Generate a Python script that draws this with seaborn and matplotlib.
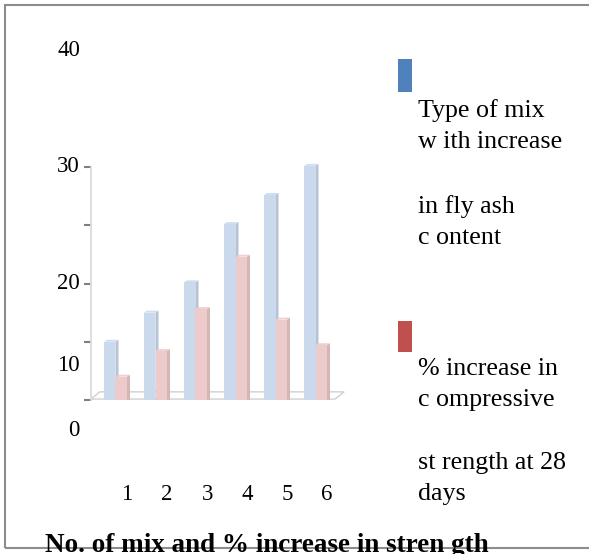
import numpy as np
import pandas as pd
import matplotlib
matplotlib.use("Agg")
import matplotlib.pyplot as plt
from matplotlib.colors import to_rgb
from matplotlib.patches import Polygon, Rectangle
import seaborn as sns

# ---------------- data ----------------
mix_numbers = ["1", "2", "3", "4", "5", "6"]
fly_ash_mix = [15.0, 17.5, 20.1, 25.1, 27.6, 30.1]
strength_increase = [12.0, 14.2, 17.8, 22.3, 16.9, 14.7]
series_names = [
    "Type of mix\nw ith increase\n\nin fly ash\nc ontent",
    "% increase in\nc ompressive\n\nst rength at 28\ndays",
]
y_tick_values = [10, 15, 20, 25, 30]
y_label_texts = ["40", "30", "20", "10", "0"]
y_label_positions = [40, 30, 20, 13, 7.4]  # where the labels sit in the source
title_text = "No. of mix and % increase in stren gth"

df = pd.DataFrame({
    "mix": mix_numbers * 2,
    "value": fly_ash_mix + strength_increase,
    "series": [series_names[0]] * len(mix_numbers) + [series_names[1]] * len(mix_numbers),
})

# ---------------- style ----------------
sns.set_theme(style="white")
plt.rcParams["font.family"] = ["Liberation Serif", "DejaVu Serif"]

W, H = 589, 554
fig = plt.figure(figsize=(W / 100, H / 100), dpi=100)
fig.patch.set_facecolor("white")
ax = fig.add_axes([91 / W, 154 / H, 254 / W, 349.5 / H])
ax.set_facecolor("none")

base_colors = ["#4f81bd", "#c0504d"]
pale = [tuple(0.3 * np.array(to_rgb(c)) + 0.7) for c in base_colors]

sns.barplot(data=df, x="mix", y="value", hue="series", hue_order=series_names,
            palette=pale, saturation=1, width=0.575, legend=False, ax=ax,
            linewidth=0, errorbar=None)

ax.set_xlim(-0.6125, 5.7375)
ax.set_ylim(10, 40)

# pseudo-3D faces
dx, dy = 0.075, 0.17
for p in list(ax.patches):
    x, w, h = p.get_x(), p.get_width(), p.get_height()
    fc = np.array(p.get_facecolor()[:3])
    j = int(np.argmin([np.sum((fc - np.array(c)) ** 2) for c in pale]))
    z = 3 + 2 * j
    p.set_zorder(z + 1)
    side_c = tuple(fc * 0.9)
    top_c = tuple(np.minimum(fc * 1.02, 1))
    ax.add_patch(Polygon([(x + w, 0), (x + w + dx, dy), (x + w + dx, h + dy), (x + w, h)],
                         closed=True, facecolor=side_c, edgecolor="none", zorder=z))
    ax.add_patch(Polygon([(x, h), (x + dx, h + dy), (x + w + dx, h + dy), (x + w, h)],
                         closed=True, facecolor=top_c, edgecolor="none", zorder=z))

# floor
x0, x1 = ax.get_xlim()
y0 = ax.get_ylim()[0]
ax.add_patch(Polygon([(x0, y0 + 0.08), (x0 + 0.22, y0 + 0.7), (x1 - 0.02, y0 + 0.7), (x1 - 0.25, y0 + 0.08)],
                     closed=True, facecolor="white", edgecolor="#d0d0d0", lw=1.0, zorder=1,
                     clip_on=False))

# axes
for s in ["top", "right", "bottom"]:
    ax.spines[s].set_visible(False)
ax.spines["left"].set_color("#d9d9d9")
ax.spines["left"].set_bounds(10, 30)
ax.set_yticks(y_tick_values)
ax.tick_params(axis="y", left=True, length=5, width=1.5, color="#7f7f7f", labelleft=False)
ax.set_xticks([])
ax.set_xlabel("")
ax.set_ylabel("")

num_fs = 16.5
for txt, pos in zip(y_label_texts, y_label_positions):
    ax.text(-11 / 254, pos, txt, transform=ax.get_yaxis_transform(), ha="right", va="center",
            fontsize=num_fs, color="black", clip_on=False)
for i, lab in enumerate(mix_numbers):
    ax.text(i + 0.29, -95 / 349.5, lab, transform=ax.get_xaxis_transform(), ha="center",
            va="center", fontsize=num_fs, color="black", clip_on=False)

# legend (manual)
leg_tops = [59, 321]
leg_heights = [33, 31]
leg_text_tops = [99, 358]
for c, top, hgt, ttop, name in zip(base_colors, leg_tops, leg_heights, leg_text_tops, series_names):
    fig.add_artist(Rectangle((398 / W, 1 - (top + hgt) / H), 14 / W, hgt / H,
                             transform=fig.transFigure, facecolor=c, edgecolor="none"))
    fig.text(418 / W, 1 - ttop / H, name, ha="left", va="top", fontsize=18.7,
             color="black", linespacing=1.55)

# border
fig.add_artist(Rectangle((5 / W, 6 / H), 1.0, 543 / H, transform=fig.transFigure,
                         fill=False, edgecolor="#8c8c8c", lw=1.5, zorder=10))

# title
t = fig.text(45 / W, 1 - 552 / H, title_text, ha="left", va="baseline", fontsize=19.5,
             fontweight="bold", color="black")
t.set_zorder(11)

fig.savefig("out.png", dpi=100)
